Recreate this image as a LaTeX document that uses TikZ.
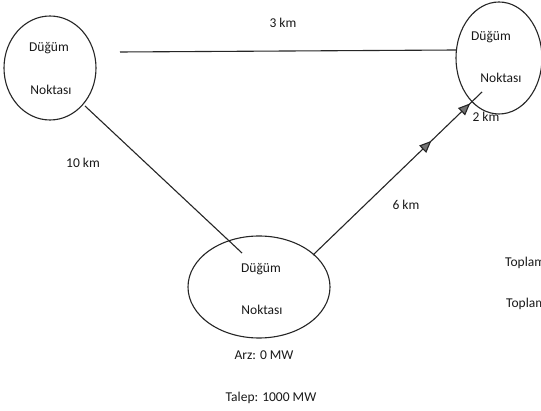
\documentclass[tikz,border=0pt]{standalone}
\usepackage{fontspec}
\setmainfont{Carlito}
\usetikzlibrary{arrows.meta,decorations.markings,shapes.geometric}
\begin{document}
\begin{tikzpicture}[x=1pt,y=-1pt,
  every node/.style={font=\fontsize{13.5}{16}\selectfont, text=black!90},
  dugum/.style={draw=black!85, line width=1.1pt, ellipse, inner sep=0pt, align=center},
  conn/.style={draw=black!85, line width=1.1pt},
  lbl/.style={inner sep=0pt},
  midtip/.tip={Triangle[length=12pt,width=10pt,fill=black!55]}
]
\useasboundingbox (0,0) rectangle (541,411);
\fill[white] (0,0) rectangle (541,411);

\node[dugum, minimum width=92pt, minimum height=104pt] (L) at (50,68) {};
\node[dugum, minimum width=86pt, minimum height=112pt] (R) at (499,58) {};
\node[dugum, minimum width=142pt, minimum height=102pt] (B) at (259,287) {};

\node[lbl] (Lt1) at (49,48) {Düğüm};
\node[lbl] (Lt2) at (51,90) {Noktası};
\node[lbl] (Rt1) at (491,37) {Düğüm};
\node[lbl] (Rt2) at (501,78) {Noktası};
\node[lbl] (Bt1) at (261,269) {Düğüm};
\node[lbl] (Bt2) at (262,310) {Noktası};

\coordinate (h1) at (120,52);
\coordinate (h2) at (456,50);
\coordinate (d1) at (85,106);
\coordinate (d2) at (242,253);
\coordinate (e1) at (313,255);
\coordinate (e2) at (482,92);

\draw[conn] (h1) -- (h2);
\draw[conn] (d1) -- (d2);
\draw[conn, postaction={decorate}, decoration={markings,
  mark=at position 0.70 with {\arrow{midtip}},
  mark=at position 0.93 with {\arrow{midtip}}}] (e1) -- (e2);

\node[lbl] (k3) at (283,23) {3 km};
\node[lbl] (k10) at (83,163) {10 km};
\node[lbl] (k6) at (406,205) {6 km};
\node[lbl] (k2) at (486,117) {2 km};
\node[lbl] (arz) at (264,355) {Arz: 0 MW};
\node[lbl] (talep) at (271,398) {Talep: 1000 MW};
\node[lbl, anchor=west] (top1) at (505,263) {Toplam};
\node[lbl, anchor=west] (top2) at (506,304) {Toplam};
\end{tikzpicture}
\end{document}
